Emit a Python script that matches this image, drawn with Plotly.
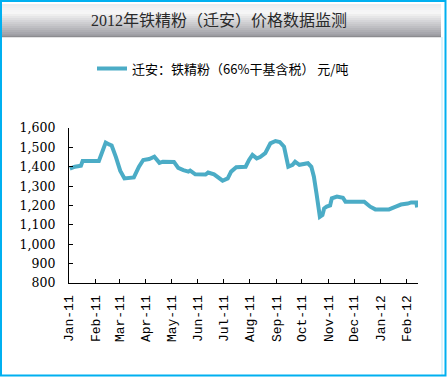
import plotly.graph_objects as go

dates = ["2011-01-02", "2011-01-08", "2011-01-15", "2011-01-17", "2011-02-05", "2011-02-09",
         "2011-02-13", "2011-02-17", "2011-02-20", "2011-02-25", "2011-03-02", "2011-03-07",
         "2011-03-18", "2011-03-24", "2011-03-29", "2011-04-05", "2011-04-11", "2011-04-17",
         "2011-04-21", "2011-05-04", "2011-05-09", "2011-05-15", "2011-05-21", "2011-05-23",
         "2011-05-29", "2011-06-10", "2011-06-13", "2011-06-20", "2011-06-26", "2011-06-30",
         "2011-07-06", "2011-07-10", "2011-07-16", "2011-07-21", "2011-07-27", "2011-07-31",
         "2011-08-04", "2011-08-09", "2011-08-13", "2011-08-19", "2011-08-25", "2011-08-31",
         "2011-09-05", "2011-09-10", "2011-09-13", "2011-09-15", "2011-09-20", "2011-09-23",
         "2011-09-28", "2011-10-08", "2011-10-12", "2011-10-15", "2011-10-18", "2011-10-20",
         "2011-10-22", "2011-10-25", "2011-10-27", "2011-10-30", "2011-11-03", "2011-11-05",
         "2011-11-11", "2011-11-18", "2011-11-21", "2011-12-13", "2011-12-20", "2011-12-26",
         "2012-01-11", "2012-01-19", "2012-01-25", "2012-02-02", "2012-02-06", "2012-02-12",
         "2012-02-13"]
prices = [1390, 1400, 1405, 1430, 1430, 1480,
          1525, 1515, 1510, 1450, 1380, 1340,
          1345, 1400, 1435, 1440, 1452, 1420,
          1426, 1425, 1394, 1383, 1375, 1380,
          1361, 1360, 1370, 1361, 1340, 1328,
          1340, 1375, 1397, 1400, 1400, 1435,
          1461, 1443, 1450, 1470, 1521, 1533,
          1528, 1504, 1435, 1400, 1410, 1426,
          1410, 1418, 1400, 1349, 1263, 1194,
          1142, 1151, 1185, 1194, 1200, 1237,
          1246, 1240, 1220, 1220, 1194, 1180,
          1180, 1194, 1205, 1210, 1216, 1216,
          1190]

series_name = "迁安：铁精粉（66%干基含税） 元/吨"
title_text = "2012年铁精粉（迁安）价格数据监测"
y_ticks = [800, 900, 1000, 1100, 1200, 1300, 1400, 1500, 1600]

W, H = 447, 377
L, R, T, B = 69, 418, 128, 283


def px(x):
    return (x - L) / (R - L)


def py(y):
    return (B - y) / (B - T)


fig = go.Figure()
fig.add_trace(go.Scatter(
    x=dates, y=prices, mode="lines", name=series_name,
    line=dict(color="#4BACC6", width=4),
))

shapes = []
# banner gradient
top, bot = 4, 36
n = 16
c0 = (236, 236, 238)
cmid = (248, 248, 248)
c1 = (160, 160, 166)
for i in range(n):
    y0 = top + (bot - top) * i / n
    y1 = top + (bot - top) * (i + 1) / n
    t = i / (n - 1)
    if t < 0.25:
        u = t / 0.25
        c = tuple(int(c0[k] + (cmid[k] - c0[k]) * u) for k in range(3))
    else:
        u = (t - 0.25) / 0.75
        c = tuple(int(cmid[k] + (c1[k] - cmid[k]) * u) for k in range(3))
    shapes.append(dict(type="rect", xref="paper", yref="paper",
                       x0=px(2), x1=px(441), y0=py(y1 + 0.5), y1=py(y0),
                       fillcolor="rgb(%d,%d,%d)" % c, line=dict(width=0), layer="below"))
shapes.append(dict(type="line", xref="paper", yref="paper",
                   x0=px(2), x1=px(441), y0=py(36.5), y1=py(36.5),
                   line=dict(color="#8c8c90", width=1.5)))
# inner faint right line
shapes.append(dict(type="line", xref="paper", yref="paper",
                   x0=px(442), x1=px(442), y0=py(375), y1=py(37),
                   line=dict(color="#b8e8f8", width=1)))
# outer border
shapes.append(dict(type="rect", xref="paper", yref="paper",
                   x0=px(1), x1=px(445.5), y0=py(375.5), y1=py(1),
                   line=dict(color="#00B0F0", width=2)))

fig.update_layout(
    width=W, height=H,
    margin=dict(l=L, r=W - R, t=T, b=H - B, autoexpand=False),
    paper_bgcolor="white", plot_bgcolor="white",
    shapes=shapes,
    showlegend=True,
    legend=dict(x=px(92), y=py(68.5), xanchor="left", yanchor="middle",
                font=dict(family="Noto Sans CJK SC", size=13, color="#000"),
                bgcolor="rgba(0,0,0,0)", itemwidth=30),
    annotations=[dict(text=title_text, xref="paper", yref="paper",
                      x=px(219), y=py(21), xanchor="center", yanchor="middle",
                      showarrow=False,
                      font=dict(family="Liberation Serif, Noto Sans CJK SC", size=16, color="#2a2a2a"))],
    xaxis=dict(
        type="date", range=["2011-01-01", "2012-02-14"],
        dtick="M1", tick0="2011-01-01", tickformat="%b-%y",
        tickangle=-90, ticks="inside", ticklen=4, tickcolor="black",
        showline=True, linecolor="black", linewidth=1.2, showgrid=False, zeroline=False,
        tickfont=dict(family="Liberation Mono", size=13, color="black"),
        ticklabelstandoff=6, automargin=False,
    ),
    yaxis=dict(
        range=[800, 1600], tickvals=y_ticks, tickformat=",",
        ticks="inside", ticklen=4, tickcolor="black",
        showline=True, linecolor="black", linewidth=1.2, showgrid=False, zeroline=False,
        tickfont=dict(family="DejaVu Serif", size=12.5, color="black"),
        ticklabelstandoff=10, automargin=False,
    ),
)

fig.write_html("out.html", config={"displayModeBar": False},
               post_script="document.body.style.margin='0';document.body.style.padding='0';")
